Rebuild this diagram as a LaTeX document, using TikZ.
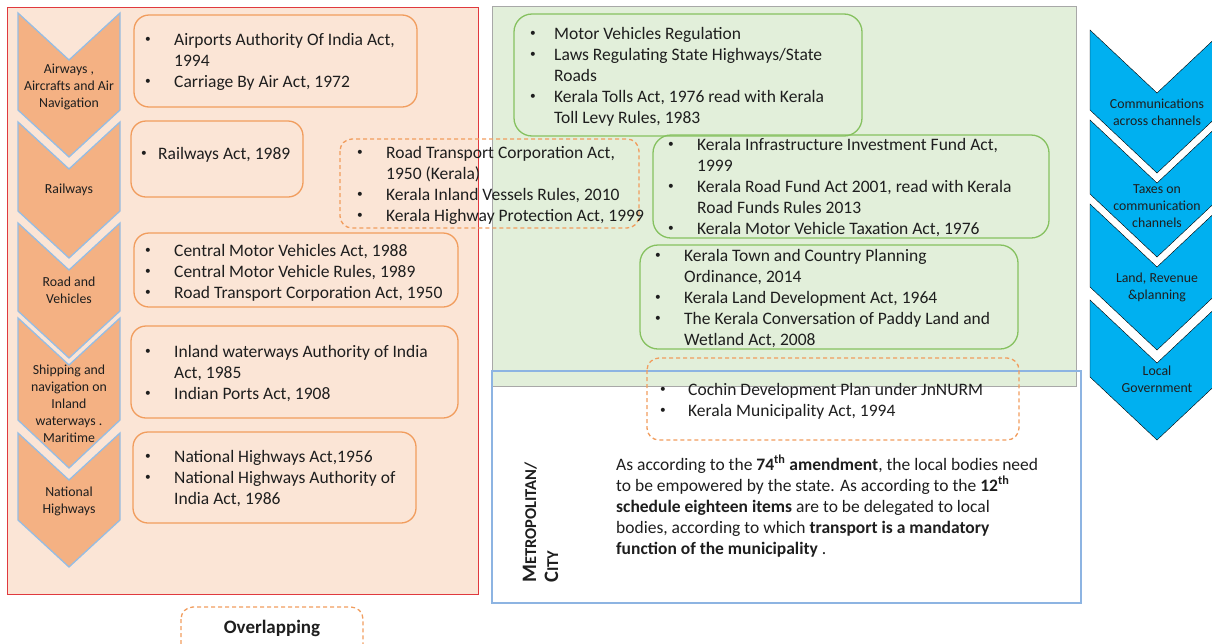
\documentclass[tikz,border=0pt]{standalone}
\usepackage{fontspec}
\setmainfont{Carlito}
\usepackage{array}
\definecolor{peach}{HTML}{FBE5D6}
\definecolor{chevfill}{HTML}{F4B183}
\definecolor{chevline}{HTML}{95BDE4}
\definecolor{boxorange}{HTML}{F19D5E}
\definecolor{panelgreen}{HTML}{E2EFDA}
\definecolor{panelgrey}{HTML}{A8A8A8}
\definecolor{boxgreen}{HTML}{86C160}
\definecolor{cityblue}{HTML}{8DB4E2}
\definecolor{skyblue}{HTML}{00B0F0}
\definecolor{framered}{HTML}{E0393E}
\definecolor{ink}{HTML}{1E1E1E}
% small list bullet
\newcommand\lawbullet{\raisebox{0.35ex}{\scalebox{0.65}{\textbullet}}}
% two-column bullet list: bullet column of width #1, then the text
\newcommand\lawrows[2]{\begin{tabular}[t]{@{}>{\raggedright\arraybackslash}p{#1}@{}l@{}}#2\end{tabular}}
\begin{document}
\begin{tikzpicture}[x=1pt,y=-1pt,
  lawbox/.style={draw=boxorange, line width=1.3pt, rounded corners=15pt},
  overlapbox/.style={draw=boxorange, line width=1.3pt, rounded corners=12pt, dash pattern=on 4pt off 3pt},
  greenbox/.style={draw=boxgreen, line width=1.3pt, rounded corners=18pt},
  leftchev/.style={fill=chevfill, draw=chevline, line width=1.3pt, line join=miter},
  rightchev/.style={fill=skyblue},
  lawlist/.style={anchor=base west, inner sep=0pt, text=ink, font=\fontsize{17.5}{21.2}\selectfont},
  chevtext/.style={align=center, inner sep=0pt, text=ink, font=\fontsize{13.8}{17}\selectfont},
]
\useasboundingbox (0,0) rectangle (1212,643);
\clip (0,0) rectangle (1212,643);

% Union panel
\draw[fill=peach, draw=framered, line width=1pt] (7,7) rectangle (478,594);
% State panel
\draw[fill=panelgreen, draw=panelgrey, line width=1pt] (492,6) rectangle (1076,386);
% Metropolitan panel
\draw[draw=cityblue, line width=1.2pt] (492,371) rectangle (1081,603);

% Union subject chevrons
\draw[leftchev] (18,13)--(69,60)--(120,13)--(120,110)--(69,157)--(18,110)--cycle;
\draw[leftchev] (18,122)--(69,169)--(120,122)--(120,211)--(69,258)--(18,211)--cycle;
\draw[leftchev] (18,223)--(69,270)--(120,223)--(120,311)--(69,358)--(18,311)--cycle;
\draw[leftchev] (18,318)--(69,365)--(120,318)--(120,420)--(69,468)--(18,420)--cycle;
\draw[leftchev] (18,433)--(69,480)--(120,433)--(120,520)--(69,567)--(18,520)--cycle;

\node[chevtext] (air) at (69,87) {Airways ,\\Aircrafts and Air\\Navigation};
\node[chevtext] (rail) at (69,190) {Railways};
\node[chevtext] (road) at (69,290) {Road and\\Vehicles};
\node[chevtext] (ship) at (69,404) {Shipping and\\navigation on\\Inland\\waterways .\\Maritime};
\node[chevtext] (nh) at (69,501) {National\\Highways};

% State subject chevrons
\draw[rightchev] (1090,30)--(1157,93)--(1224,30)--(1224,110)--(1157,173)--(1090,110)--cycle;
\draw[rightchev] (1090,120)--(1157,183)--(1224,120)--(1224,194)--(1157,257)--(1090,194)--cycle;
\draw[rightchev] (1090,204)--(1157,267)--(1224,204)--(1224,287)--(1157,350)--(1090,287)--cycle;
\draw[rightchev] (1090,300)--(1157,363)--(1224,300)--(1224,377)--(1157,440)--(1090,377)--cycle;

\node[chevtext] (comm) at (1157,112) {Communications\\across channels};
\node[chevtext] (tax) at (1157,206) {Taxes on\\communication\\channels};
\node[chevtext] (land) at (1157,287) {Land, Revenue\\\&planning};
\node[chevtext] (local) at (1157,379) {Local\\Government};

% Union acts
\draw[lawbox] (134,15) rectangle (417,107);
\node[lawlist] (actsair) at (145,45) {\lawrows{29pt}{\lawbullet & Airports Authority Of India Act,\\ & 1994\\ \lawbullet & Carriage By Air Act, 1972}};
\draw[lawbox] (131,121) rectangle (303,197);
\node[lawlist] (actsrail) at (141,159) {\lawrows{17pt}{\lawbullet & Railways Act, 1989}};
\draw[lawbox] (134,233) rectangle (458,307);
\node[lawlist] (actsroad) at (145,256) {\lawrows{29pt}{\lawbullet & Central Motor Vehicles Act, 1988\\ \lawbullet & Central Motor Vehicle Rules, 1989\\ \lawbullet & Road Transport Corporation Act, 1950}};
\draw[lawbox] (131,326) rectangle (458,418);
\node[lawlist] (actsship) at (145,357) {\lawrows{29pt}{\lawbullet & Inland waterways Authority of India\\ & Act, 1985\\ \lawbullet & Indian Ports Act, 1908}};
\draw[lawbox] (133,432) rectangle (416,523);
\node[lawlist] (actsnh) at (145,462) {\lawrows{29pt}{\lawbullet & National Highways Act,1956\\ \lawbullet & National Highways Authority of\\ & India Act, 1986}};

% State acts
\draw[greenbox] (514,14) rectangle (862,136);
\node[lawlist] (actsmv) at (530,39) {\lawrows{24pt}{\lawbullet & Motor Vehicles Regulation\\ \lawbullet & Laws Regulating State Highways/State\\ & Roads\\ \lawbullet & Kerala Tolls Act, 1976 read with Kerala\\ & Toll Levy Rules, 1983}};
\draw[greenbox] (653,135) rectangle (1049,238);
\node[lawlist] (actsfund) at (668,150) {\lawrows{29pt}{\lawbullet & Kerala Infrastructure Investment Fund Act,\\ & 1999\\ \lawbullet & Kerala Road Fund Act 2001, read with Kerala\\ & Road Funds Rules 2013\\ \lawbullet & Kerala Motor Vehicle Taxation Act, 1976}};
\draw[greenbox] (640,245) rectangle (1018,349);
\node[lawlist] (actsplan) at (655,261) {\lawrows{29pt}{\lawbullet & Kerala Town and Country Planning\\ & Ordinance, 2014\\ \lawbullet & Kerala Land Development Act, 1964\\ \lawbullet & The Kerala Conversation of Paddy Land and\\ & Wetland Act, 2008}};

% Acts shared between levels
\draw[overlapbox] (340,139) rectangle (639,228);
\node[lawlist] (actsshared) at (357,158) {\lawrows{29pt}{\lawbullet & Road Transport Corporation Act,\\ & 1950 (Kerala)\\ \lawbullet & Kerala Inland Vessels Rules, 2010\\ \lawbullet & Kerala Highway Protection Act, 1999}};
\draw[overlapbox] (647,358) rectangle (1019,440);
\node[lawlist] (actscity) at (660,395) {\lawrows{28pt}{\lawbullet & Cochin Development Plan under JnNURM\\ \lawbullet & Kerala Municipality Act, 1994}};

% Metropolitan / city
\node[rotate=90, anchor=base west, inner sep=0pt, text=ink, font=\bfseries] (metro) at (536,583)
  {\fontsize{20.5}{20}\selectfont M\fontsize{16.5}{16}\selectfont ETROPOLITAN/};
\node[rotate=90, anchor=base west, inner sep=0pt, text=ink, font=\bfseries] (city) at (558,583)
  {\fontsize{20.5}{20}\selectfont C\fontsize{16.5}{16}\selectfont ITY};
\node[lawlist] (note) at (616,470) {\begin{tabular}[t]{@{}l@{}}
As according to the \textbf{74\textsuperscript{th} amendment}, the local bodies need\\
to be empowered by the state. As according to the \textbf{12\textsuperscript{th}}\\
\textbf{schedule eighteen items} are to be delegated to local\\
bodies, according to which \textbf{transport is a mandatory}\\
\textbf{function of the municipality} .
\end{tabular}};

% Legend
\draw[overlapbox] (181,607) rectangle (363,680);
\node[inner sep=0pt, text=ink, font=\bfseries\fontsize{19}{22}\selectfont] (legend) at (272,628) {Overlapping};
\end{tikzpicture}
\end{document}
